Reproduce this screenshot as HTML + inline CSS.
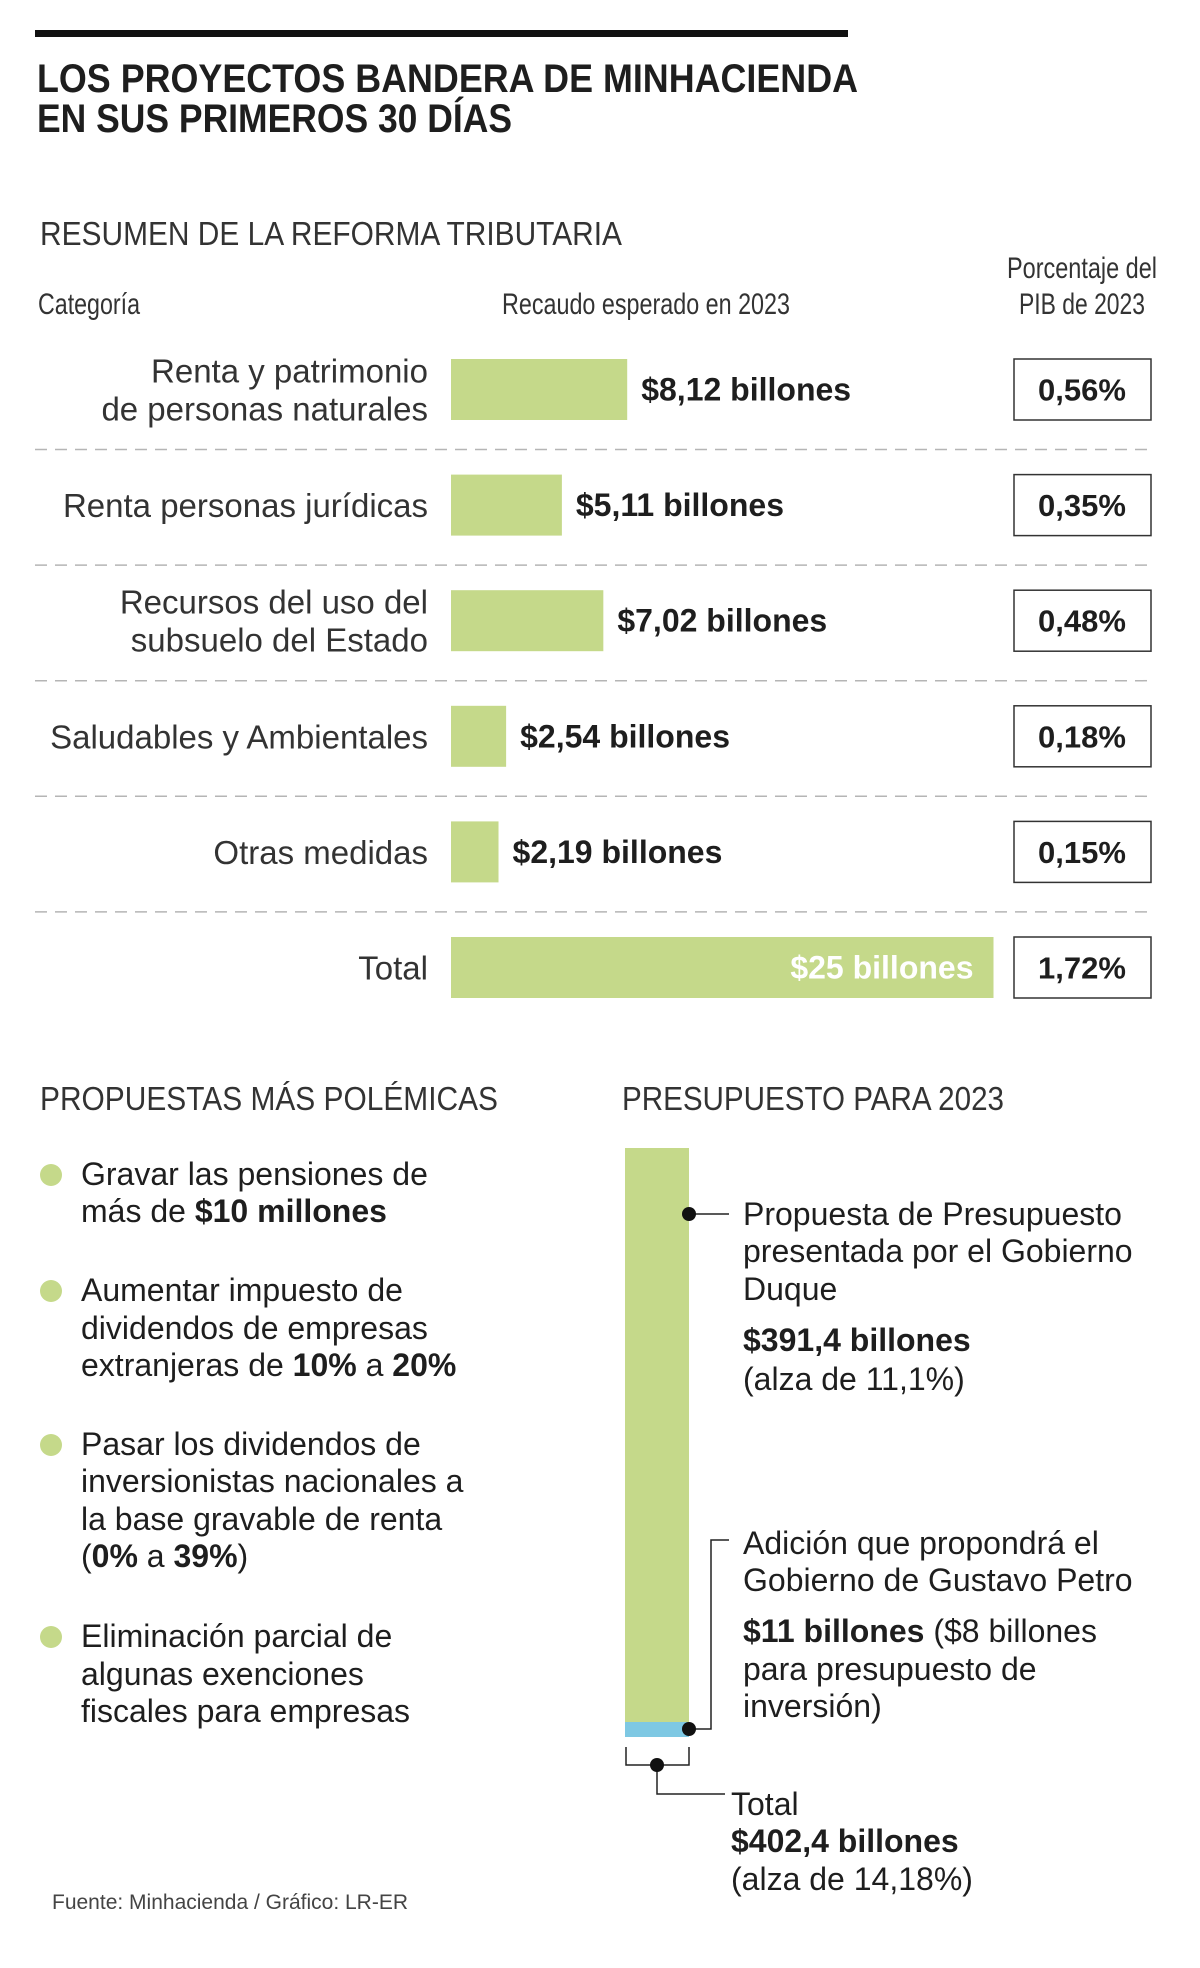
<!DOCTYPE html>
<html><head><meta charset="utf-8"><style>
html,body{margin:0;padding:0;background:#fff}
svg{display:block}
text{font-family:"Liberation Sans",sans-serif;fill:#1e1e1e}
.b{font-weight:bold}
</style></head><body>
<svg id="chart" width="1200" height="1968" viewBox="0 0 1200 1968" xmlns="http://www.w3.org/2000/svg">
<rect x="0" y="0" width="1200" height="1968" fill="#fff"/>
<rect x="35" y="30" width="813" height="7" fill="#111"/>
<text class="b" x="37" y="92" font-size="40" textLength="821" lengthAdjust="spacingAndGlyphs">LOS PROYECTOS BANDERA DE MINHACIENDA</text>
<text class="b" x="37" y="132" font-size="40" textLength="475" lengthAdjust="spacingAndGlyphs">EN SUS PRIMEROS 30 DÍAS</text>

<text x="40" y="245" font-size="33" textLength="582" lengthAdjust="spacingAndGlyphs" style="fill:#333">RESUMEN DE LA REFORMA TRIBUTARIA</text>
<text x="38" y="314" font-size="30" textLength="102" lengthAdjust="spacingAndGlyphs" style="fill:#333">Categoría</text>
<text x="502" y="314" font-size="30" textLength="288" lengthAdjust="spacingAndGlyphs" style="fill:#333">Recaudo esperado en 2023</text>
<text x="1007" y="278" font-size="30" textLength="150" lengthAdjust="spacingAndGlyphs" style="fill:#333">Porcentaje del</text>
<text x="1019" y="314" font-size="30" textLength="126" lengthAdjust="spacingAndGlyphs" style="fill:#333">PIB de 2023</text>
<g id="rows"></g>

<text x="40" y="1110" font-size="33" textLength="458" lengthAdjust="spacingAndGlyphs" style="fill:#333">PROPUESTAS MÁS POLÉMICAS</text>
<text x="622" y="1110" font-size="33" textLength="382" lengthAdjust="spacingAndGlyphs" style="fill:#333">PRESUPUESTO PARA 2023</text>

<g font-size="32">
<circle cx="51" cy="1175" r="11" fill="#c5d98a"/>
<text x="81" y="1185">Gravar las pensiones de</text>
<text x="81" y="1222">más de <tspan class="b">$10 millones</tspan></text>
<circle cx="51" cy="1291" r="11" fill="#c5d98a"/>
<text x="81" y="1301">Aumentar impuesto de</text>
<text x="81" y="1339">dividendos de empresas</text>
<text x="81" y="1376">extranjeras de <tspan class="b">10%</tspan> a <tspan class="b">20%</tspan></text>
<circle cx="51" cy="1445" r="11" fill="#c5d98a"/>
<text x="81" y="1455">Pasar los dividendos de</text>
<text x="81" y="1492">inversionistas nacionales a</text>
<text x="81" y="1530">la base gravable de renta</text>
<text x="81" y="1567">(<tspan class="b">0%</tspan> a <tspan class="b">39%</tspan>)</text>
<circle cx="51" cy="1637" r="11" fill="#c5d98a"/>
<text x="81" y="1647">Eliminación parcial de</text>
<text x="81" y="1685">algunas exenciones</text>
<text x="81" y="1722">fiscales para empresas</text>
</g>

<g>
<rect x="625" y="1148" width="64" height="575" fill="#c5d98a"/>
<rect x="625" y="1722" width="64" height="15" fill="#7ec8e3"/>
<g stroke="#222" stroke-width="1.5" fill="none">
<line x1="689" y1="1214" x2="729" y2="1214"/>
<polyline points="689,1729 711,1729 711,1540 729,1540"/>
<polyline points="626,1747 626,1765 689,1765 689,1747"/>
<polyline points="657,1765 657,1794 725,1794"/>
</g>
<circle cx="689" cy="1214" r="7" fill="#111"/>
<circle cx="689" cy="1729" r="7" fill="#111"/>
<circle cx="657" cy="1765" r="7" fill="#111"/>
<g font-size="32">
<text x="743" y="1225">Propuesta de Presupuesto</text>
<text x="743" y="1262">presentada por el Gobierno</text>
<text x="743" y="1300">Duque</text>
<text class="b" x="743" y="1351">$391,4 billones</text>
<text x="743" y="1390">(alza de 11,1%)</text>
<text x="743" y="1554">Adición que propondrá el</text>
<text x="743" y="1591">Gobierno de Gustavo Petro</text>
<text x="743" y="1642"><tspan class="b">$11 billones</tspan> ($8 billones</text>
<text x="743" y="1680">para presupuesto de</text>
<text x="743" y="1717">inversión)</text>
<text x="731" y="1815">Total</text>
<text class="b" x="731" y="1852">$402,4 billones</text>
<text x="731" y="1890">(alza de 14,18%)</text>
</g>
</g>
<text x="52" y="1909" font-size="21" style="fill:#444">Fuente: Minhacienda / Gráfico: LR-ER</text>
</svg>
<script>
const categories = [["Renta y patrimonio","de personas naturales"],["Renta personas jurídicas"],["Recursos del uso del","subsuelo del Estado"],["Saludables y Ambientales"],["Otras medidas"],["Total"]];
const values = [8.12, 5.11, 7.02, 2.54, 2.19, 25];
const valueLabels = ["$8,12 billones","$5,11 billones","$7,02 billones","$2,54 billones","$2,19 billones","$25 billones"];
const percents = ["0,56%","0,35%","0,48%","0,18%","0,15%","1,72%"];

const NS = "http://www.w3.org/2000/svg";
const g = document.getElementById("rows");
const x0 = 451, pxPerUnit = 21.7, rowTop = 359, pitch = 115.6, barH = 61;
const xScale = v => v * pxPerUnit;
const yRow = i => rowTop + i * pitch;
function mk(tag, attrs, txt){const e=document.createElementNS(NS,tag);for(const k in attrs)e.setAttribute(k,attrs[k]);if(txt!==undefined)e.textContent=txt;g.appendChild(e);return e;}
values.forEach((v,i)=>{
  const y = yRow(i), cy = y + barH/2, w = xScale(v);
  const isTotal = i === values.length-1;
  const bar = mk("rect",{x:x0,y:y,width:w,height:barH,fill:"#c5d98a"});
  
  
  const lbl = mk("text",{x:isTotal? x0+w-20 : x0+w+14,y:cy+11,"font-size":32,"font-weight":"bold","text-anchor":isTotal?"end":"start",style:isTotal?"fill:#fff":""}, valueLabels[i]);
  
  
  const box = mk("rect",{x:1014,y:y,width:137,height:barH,fill:"#fff",stroke:"#333","stroke-width":1.5});
  
  
  const pt = mk("text",{x:1082,y:cy+11,"font-size":31,"font-weight":"bold","text-anchor":"middle"}, percents[i]);
  
  
  const lines = categories[i];
  lines.forEach((ln,j)=>{
    const by = lines.length===2 ? cy - 7 + j*38 : cy + 12;
    const t = mk("text",{x:428,y:by,"font-size":33,"text-anchor":"end",style:"fill:#333"}, ln);
    
    
  });
  if(!isTotal){
    const d = mk("line",{x1:35,x2:1155,y1:y+barH+29.5,y2:y+barH+29.5,stroke:"#b5b5b5","stroke-width":1.5,"stroke-dasharray":"12 8"});
    
    
  }
});
</script>
</body></html>
